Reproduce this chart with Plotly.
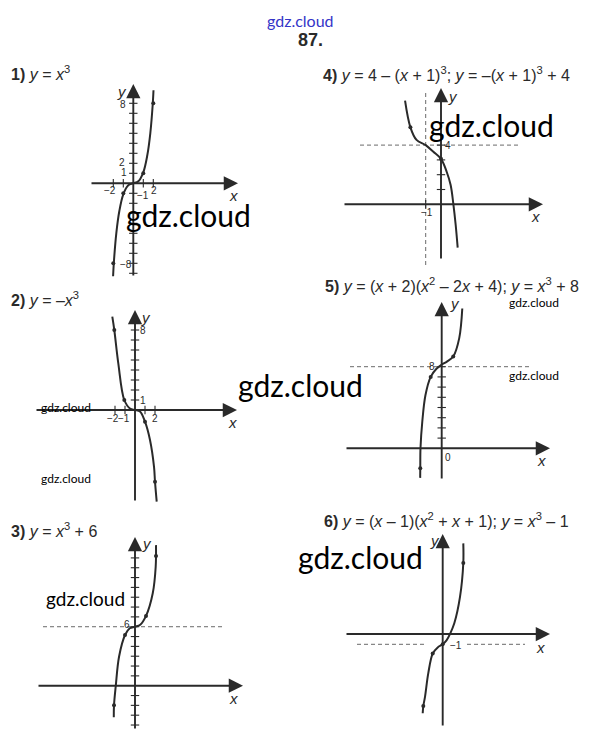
import plotly.graph_objects as go

# the page body keeps the browser's default 8px margin, so the figure is
# shifted by that amount and shrunk to still fit the 600x747 window
OFF = 8
W, H = 600 - OFF, 747 - OFF

# ------------------------------------------------------------------ data
# curve samples (x, y in each panel's own units)
c1_x = [-2.02, -1.95, -1.7, -1.4, -1.0, -0.5, 0, 0.5, 1.0, 1.4, 1.7, 1.95, 2.02]
c1_y = [-9.3, -8.0, -5.0, -2.8, -1.1, -0.2, 0, 0.2, 1.1, 2.8, 5.0, 8.0, 9.3]
d1_x = [-2, -1, 1, 2]
d1_y = [-8, -1, 1, 8]

c2_x = [-2.27, -2.07, -1.67, -1.07, -0.5, 0, 0.5, 1.0, 1.5, 1.9, 2.0, 2.17]
c2_y = [9.33, 8.0, 4.67, 1.0, 0.15, 0, -0.15, -1.17, -3.0, -5.67, -7.17, -9.17]
d2_x = [-2.07, -1.07, 1.0, 2.0]
d2_y = [8.0, 1.0, -1.17, -7.17]

c3_x = [-2.02, -2.0, -1.83, -1.52, -0.95, -0.5, 0, 0.5, 1.05, 1.69, 1.97, 2.0]
c3_y = [-3.2, -2.0, 0, 2.95, 5.16, 5.85, 6.0, 6.2, 7.1, 9.4, 12.1, 14.3]
d3_x = [-2.0, -0.95, 1.05, 2.0]
d3_y = [-2.0, 5.16, 7.1, 13.2]

c4_x = [-2.35, -2.0, -1.6, -1.0, -0.5, 0, 0.37, 0.63, 0.81, 0.96, 1.09]
c4_y = [7.0, 5.2, 4.35, 4.0, 3.55, 3.07, 2.2, 1.3, 0, -1.4, -2.93]
d4_x = [-2.0, 0]
d4_y = [5.2, 3.07]

c5_x = [-2.05, -2.04, -2.02, -1.85, -1.55, -1.05, -0.5, 0, 0.5, 1.1, 1.67, 1.96]
c5_y = [-2.9, -1.96, 0, 2.6, 5.2, 7.0, 7.8, 8.2, 8.5, 9.0, 10.8, 13.7]
d5_x = [-2.04, -1.05, 1.1]
d5_y = [-1.96, 7.0, 9.0]

c6_x = [-2.0, -1.94, -1.77, -1.44, -1.0, -0.5, 0, 0.4, 0.73, 1.16, 1.73, 2.06, 2.06]
c6_y = [-7.7, -7.0, -6.1, -3.8, -1.9, -1.3, -1.0, -0.6, 0, 1.04, 3.6, 6.9, 8.8]
d6_x = [-1.94, -1.0, 0, 2.06]
d6_y = [-7.0, -1.9, -1.0, 6.9]

# tick positions on the axes
yt1 = [-9, -8, -7, -6, -5, -4, -3, -2, -1, 1, 2, 3, 4, 5, 6, 7, 8, 9]
xt1 = [-2, -1, 1, 2]
yt2 = [1, 2, 3, 4, 5, 6, 7, 8, 9]
xt2 = [-2, -1, 1, 2]
yt3 = [-4, -3, -2, -1, 1, 2, 3, 4, 5, 6, 7, 8, 9, 10, 11, 12, 13, 14]
xt3 = []
yt4 = [1, 2, 3, 4]
xt4 = [-1]
yt5 = [1, 2, 3, 4, 5, 6, 7, 8]
xt5 = []
yt6 = []
xt6 = []

# dashed reference levels
lvl3_y = 6
lvl4_y = 4
lvl4_x = -1
lvl5_y = 8
lvl6_y = -1

# tick label texts
tl1 = ["8", "2", "1", "−2", "−1", "2", "−8"]
tl2 = ["8", "1", "−2", "−1", "2"]
tl3 = ["6"]
tl4 = ["4", "−1"]
tl5 = ["8", "0"]
tl6 = ["−1"]

titles = [
    "<b>1)</b> <i>y</i> = <i>x</i><sup>3</sup>",
    "<b>2)</b> <i>y</i> = –<i>x</i><sup>3</sup>",
    "<b>3)</b> <i>y</i> = <i>x</i><sup>3</sup> + 6",
    "<b>4)</b> <i>y</i> = 4 – (<i>x</i> + 1)<sup>3</sup>; <i>y</i> = –(<i>x</i> + 1)<sup>3</sup> + 4",
    "<b>5)</b> <i>y</i> = (<i>x</i> + 2)(<i>x</i><sup>2</sup> – 2<i>x</i> + 4); <i>y</i> = <i>x</i><sup>3</sup> + 8",
    "<b>6)</b> <i>y</i> = (<i>x</i> – 1)(<i>x</i><sup>2</sup> + <i>x</i> + 1); <i>y</i> = <i>x</i><sup>3</sup> – 1",
]

# ------------------------------------------------------------------ layout geometry (window pixels)
P = [
    dict(ox=133.3, oy=183.3, sx=10, sy=10, cell=(20, 290, 80, 285),
         xa=(90, 238), ya=(277, 84)),
    dict(ox=135, oy=410, sx=10, sy=10, cell=(20, 290, 300, 515),
         xa=(35, 237), ya=(502, 310)),
    dict(ox=135, oy=685.7, sx=10.5, sy=9.83, cell=(20, 290, 530, 742),
         xa=(37, 243), ya=(730, 537)),
    dict(ox=441, oy=204.3, sx=15.3, sy=14.8, cell=(320, 590, 82, 275),
         xa=(343, 543), ya=(260, 88)),
    dict(ox=441.7, oy=448.3, sx=10.5, sy=10.2, cell=(320, 590, 292, 490),
         xa=(345, 550), ya=(480, 302)),
    dict(ox=442.7, oy=634, sx=10, sy=10.3, cell=(320, 590, 525, 742),
         xa=(345, 550), ya=(727, 534)),
]

INK = "#2a2a2a"
DASH = "#6a6a6a"


def X(p, px):
    return (px - p["ox"]) / p["sx"]


def Y(p, py):
    return (p["oy"] - py) / p["sy"]


def PX(px):
    return (px - OFF) / W


def PY(py):
    return 1 - (py - OFF) / H


fig = go.Figure()
layout = dict(width=W, height=H, margin=dict(l=0, r=0, t=0, b=0),
              paper_bgcolor="white", plot_bgcolor="rgba(0,0,0,0)",
              showlegend=False)
annotations = []

for i, p in enumerate(P):
    k = "" if i == 0 else str(i + 1)
    l, r, t, b = p["cell"]
    layout["xaxis" + k] = dict(domain=[PX(l), PX(r)], range=[X(p, l), X(p, r)],
                               visible=False, fixedrange=True, anchor="y" + k)
    layout["yaxis" + k] = dict(domain=[PY(b), PY(t)], range=[Y(p, b), Y(p, t)],
                               visible=False, fixedrange=True, anchor="x" + k)
    xr, yr = "x" + k, "y" + k
    # axes with arrows
    annotations.append(dict(x=X(p, p["xa"][1]), y=0, ax=X(p, p["xa"][0]), ay=0,
                            xref=xr, yref=yr, axref=xr, ayref=yr, text="",
                            showarrow=True, arrowhead=2, arrowsize=1.5,
                            arrowwidth=1.9, arrowcolor=INK, standoff=0))
    annotations.append(dict(x=0, y=Y(p, p["ya"][1]), ax=0, ay=Y(p, p["ya"][0]),
                            xref=xr, yref=yr, axref=xr, ayref=yr, text="",
                            showarrow=True, arrowhead=2, arrowsize=1.5,
                            arrowwidth=1.9, arrowcolor=INK, standoff=0))

curves = [(c1_x, c1_y, d1_x, d1_y, xt1, yt1), (c2_x, c2_y, d2_x, d2_y, xt2, yt2),
          (c3_x, c3_y, d3_x, d3_y, xt3, yt3), (c4_x, c4_y, d4_x, d4_y, xt4, yt4),
          (c5_x, c5_y, d5_x, d5_y, xt5, yt5), (c6_x, c6_y, d6_x, d6_y, xt6, yt6)]

# dashed reference lines (pixel extents are layout)
dashes = [
    (2, [43, 223], None, lvl3_y, "h"),
    (3, [360, 518], None, lvl4_y, "h"),
    (3, None, [93, 268], lvl4_x, "v"),
    (4, [350, 530], None, lvl5_y, "h"),
    (5, [357, 427], None, lvl6_y, "h"),
    (5, [467, 525], None, lvl6_y, "h"),
]
for idx, xs, ys, lvl, kind in dashes:
    p = P[idx]
    k = "" if idx == 0 else str(idx + 1)
    if kind == "h":
        xx, yy = [X(p, xs[0]), X(p, xs[1])], [lvl, lvl]
    else:
        xx, yy = [lvl, lvl], [Y(p, ys[0]), Y(p, ys[1])]
    fig.add_trace(go.Scatter(x=xx, y=yy, mode="lines",
                             line=dict(color=DASH, width=1, dash="4px,3px"),
                             xaxis="x" + k, yaxis="y" + k, hoverinfo="skip"))

for i, (cx, cy, dx, dy, xt, yt) in enumerate(curves):
    k = "" if i == 0 else str(i + 1)
    ax = dict(xaxis="x" + k, yaxis="y" + k, hoverinfo="skip")
    if yt:
        fig.add_trace(go.Scatter(x=[0] * len(yt), y=yt, mode="markers",
                                 marker=dict(symbol="line-ew", size=6,
                                             line=dict(color=INK, width=1.1)), **ax))
    if xt:
        fig.add_trace(go.Scatter(x=xt, y=[0] * len(xt), mode="markers",
                                 marker=dict(symbol="line-ns", size=6,
                                             line=dict(color=INK, width=1.1)), **ax))
    fig.add_trace(go.Scatter(x=cx, y=cy, mode="lines",
                             line=dict(color=INK, width=2, shape="spline", smoothing=1.0), **ax))
    fig.add_trace(go.Scatter(x=dx, y=dy, mode="markers",
                             marker=dict(color=INK, size=4), **ax))


def txt(px, py, text, size, family="Liberation Sans", color=INK, xanchor="center",
        yanchor="middle"):
    annotations.append(dict(x=PX(px), y=PY(py), xref="paper", yref="paper",
                            text=text, showarrow=False, xanchor=xanchor, yanchor=yanchor,
                            font=dict(size=size, family=family, color=color)))


# header
txt(300, 9, "gdz.cloud", 16, family="Lato", color="#3434c8", yanchor="top")
txt(310, 40, "<b>87.</b>", 18)

# titles
title_pos = [(9, 73), (9, 299), (9, 530), (321, 74), (323, 285), (322, 520)]
for (px, py), t in zip(title_pos, titles):
    txt(px, py, t, 16, xanchor="left")

# axis names
axis_names = [((122, 92), (233, 195)), ((146, 317), (232, 422)), ((147, 543), (233, 698)),
              ((453, 97), (535, 217)), ((455, 303), (541, 460)), ((435, 540), (540, 647))]
for (yp, xp) in axis_names:
    txt(yp[0], yp[1], "<i>y</i>", 15)
    txt(xp[0], xp[1], "<i>x</i>", 15)

# tick labels (positions are layout)
tl_pos = [
    (tl1, [(123, 104), (122, 163), (124, 172), (110, 191), (143, 195), (154, 191), (126, 264)]),
    (tl2, [(143, 330), (143, 400), (113, 418), (124, 418), (155, 418)]),
    (tl3, [(127, 624)]),
    (tl4, [(448, 145), (427, 213)]),
    (tl5, [(432, 367), (448, 457)]),
    (tl6, [(456, 645)]),
]
for labels, pos in tl_pos:
    for s, (px, py) in zip(labels, pos):
        txt(px, py, s, 10)

# watermarks
for (px, py) in [(188, 215), (300, 385), (491, 125), (360, 557)]:
    txt(px, py, "gdz.cloud", 30, family="Lato", color="#000000")
txt(86, 598, "gdz.cloud", 19, family="Lato", color="#000000")
for (px, py) in [(66, 407), (66, 478), (534, 302), (534, 375)]:
    txt(px, py, "gdz.cloud", 12, family="Lato", color="#000000")

layout["annotations"] = annotations
fig.update_layout(**layout)
fig.write_html("out.html")
